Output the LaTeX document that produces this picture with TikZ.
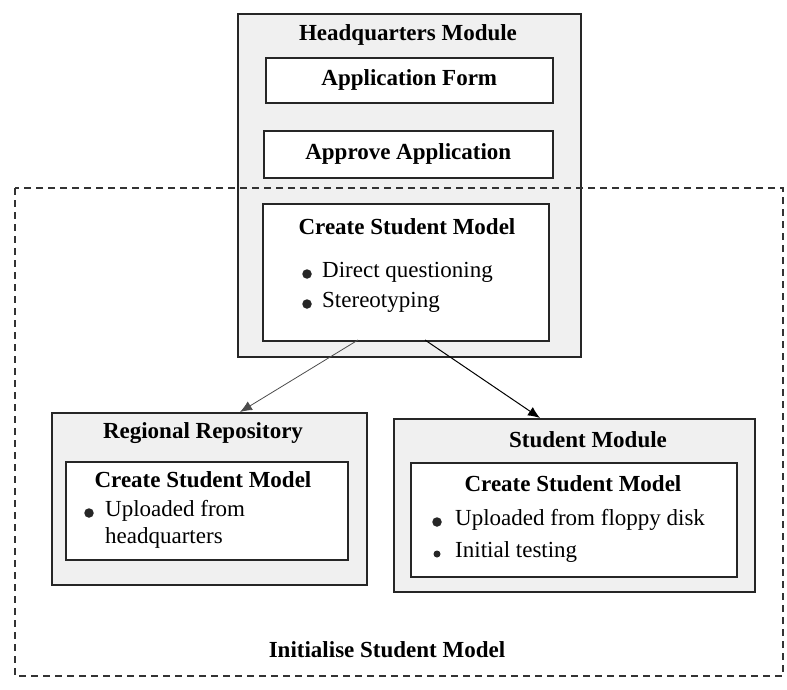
\documentclass[tikz,border=0pt]{standalone}
\usepackage{fontspec}
\setmainfont{Liberation Serif}
\usetikzlibrary{arrows.meta}
\begin{document}
\begin{tikzpicture}[x=1pt,y=-1pt,
  outerbox/.style={draw=black!85, line width=1.6pt, fill=black!6, inner sep=0pt, anchor=north west},
  innerbox/.style={draw=black!85, line width=1.6pt, fill=white, inner sep=0pt, anchor=north west},
  title/.style={font=\fontsize{23}{27}\selectfont\bfseries, inner sep=0pt},
  item/.style={font=\fontsize{23}{27}\selectfont, inner sep=0pt, anchor=west},
  dot/.style={circle, fill=black!85, inner sep=0pt, minimum size=9.5pt},
  smalldot/.style={circle, fill=black!85, inner sep=0pt, minimum size=7pt},
  conn/.style={line width=1pt, -{Latex[length=12pt,width=10pt]}},
  region/.style={draw=black!80, line width=1.4pt, dash pattern=on 7pt off 5pt}
]
\useasboundingbox (0,0) rectangle (787,690);

% Headquarters module
\node[outerbox, minimum width=343pt, minimum height=343pt] (hq) at (237,13) {};
\node[title] (hqt) at (408,35) {Headquarters Module};
\node[innerbox, minimum width=287pt, minimum height=45pt] (af) at (265,57) {};
\node[title] at (af.center) {Application Form};
\node[innerbox, minimum width=289pt, minimum height=47pt] (aa) at (263,130) {};
\node[title] at (aa.center) {Approve Application};
\node[innerbox, minimum width=286pt, minimum height=137pt] (csm) at (262,203) {};
\node[title] (csmt) at (407,227) {Create Student Model};
\node[dot] (d1) at (307,274) {};
\node[item] (i1) at (322,272) {Direct questioning};
\node[dot] (d2) at (307,304) {};
\node[item] (i2) at (322,302) {Stereotyping};

% Regional repository
\node[outerbox, minimum width=315pt, minimum height=172pt] (rr) at (51,412) {};
\node[title] (rrt) at (203,433) {Regional Repository};
\node[innerbox, minimum width=282pt, minimum height=98pt] (rri) at (65,461) {};
\node[title] (rrit) at (203,480) {Create Student Model};
\node[dot] (d3) at (89,513) {};
\node[item] (i3) at (105,511) {Uploaded from};
\node[item] (i4) at (105,538) {headquarters};

% Student module
\node[outerbox, minimum width=361pt, minimum height=173pt] (sm) at (393,418) {};
\node[title] (smt) at (588,440) {Student Module};
\node[innerbox, minimum width=326pt, minimum height=114pt] (smi) at (410,462) {};
\node[title] (smit) at (573,484) {Create Student Model};
\node[dot] (d4) at (437,522) {};
\node[item] (i5) at (455,520) {Uploaded from floppy disk};
\node[smalldot] (d5) at (437,554) {};
\node[item] (i6) at (455,552) {Initial testing};

% Dashed region
\draw[region] (15,188) rectangle (783,676);
\node[title] (ism) at (387,650) {Initialise Student Model};

% Connectors
\coordinate (s1) at (358,340);
\coordinate (s2) at (425,340);
\coordinate (t1) at (240,412);
\coordinate (t2) at (540,418);
\draw[conn, draw=black!70, line width=0.8pt] (s1) -- (t1);
\draw[conn] (s2) -- (t2);
\end{tikzpicture}
\end{document}
